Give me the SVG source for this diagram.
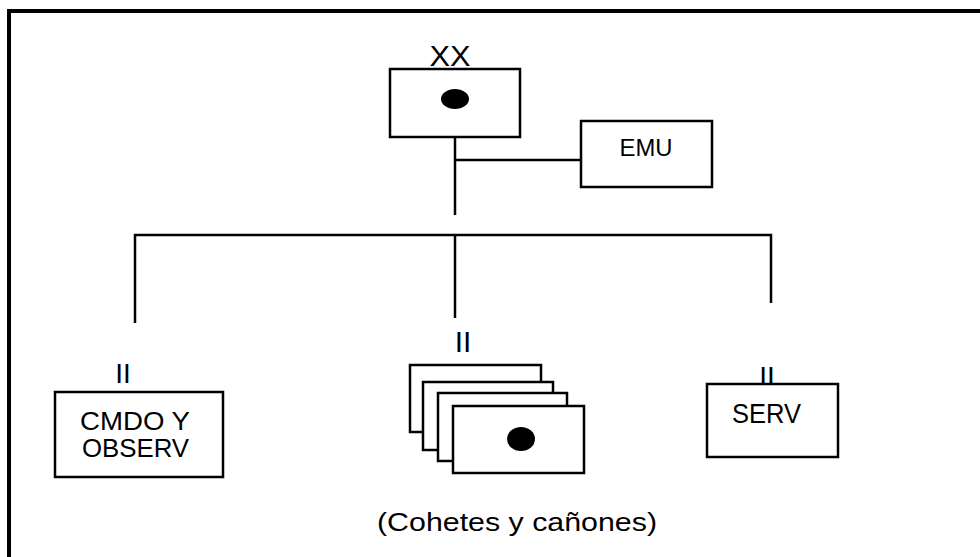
<svg xmlns="http://www.w3.org/2000/svg" width="980" height="557" viewBox="0 0 980 557">
<style>
.box{fill:#fff;stroke:#000;stroke-width:2.5}
.ln{fill:none;stroke:#000;stroke-width:2.5}
.t{font-family:"Liberation Sans",Arial,sans-serif;fill:#000}
</style>
<rect x="0" y="0" width="980" height="557" fill="#fff"/>
<path d="M9,557 V11 H980" fill="none" stroke="#000" stroke-width="4"/>
<g id="connectors">
<path class="ln" d="M455,137 V215"/>
<path class="ln" d="M455,160 H581"/>
<path class="ln" d="M135,323 V235 H771 V303"/>
<path class="ln" d="M455,235 V318"/>
</g>
<g id="xx">
<text class="t" x="450" y="66" font-size="30" text-anchor="middle" textLength="41" lengthAdjust="spacingAndGlyphs">XX</text>
<rect class="box" x="390" y="69" width="130" height="68"/>
<ellipse cx="455" cy="99" rx="14" ry="10" fill="#000"/>
</g>
<g id="emu">
<rect class="box" x="581" y="121" width="131" height="66"/>
<text class="t" x="646" y="156" font-size="24" text-anchor="middle" textLength="53" lengthAdjust="spacingAndGlyphs">EMU</text>
</g>
<g id="cmdo">
<text class="t" x="123" y="383" font-size="28" text-anchor="middle">II</text>
<rect class="box" x="55" y="392" width="168" height="85"/>
<text class="t" x="80" y="430" font-size="25" textLength="110" lengthAdjust="spacingAndGlyphs">CMDO Y</text>
<text class="t" x="82" y="457" font-size="25" textLength="107" lengthAdjust="spacingAndGlyphs">OBSERV</text>
</g>
<g id="cohetes">
<text class="t" x="463" y="352" font-size="30" text-anchor="middle">II</text>
<rect class="box" x="410" y="365" width="131" height="67"/>
<rect class="box" x="423" y="382" width="130" height="68"/>
<rect class="box" x="438" y="393" width="129" height="68"/>
<rect class="box" x="453" y="406" width="131" height="67"/>
<ellipse cx="521" cy="439" rx="14" ry="12" fill="#000"/>
<text class="t" x="377" y="531" font-size="26" textLength="280" lengthAdjust="spacingAndGlyphs">(Cohetes y cañones)</text>
</g>
<g id="serv">
<text class="t" x="767" y="386" font-size="28" text-anchor="middle">II</text>
<rect class="box" x="707" y="384" width="131" height="73"/>
<text class="t" x="732" y="423" font-size="27" textLength="69" lengthAdjust="spacingAndGlyphs">SERV</text>
</g>
</svg>
